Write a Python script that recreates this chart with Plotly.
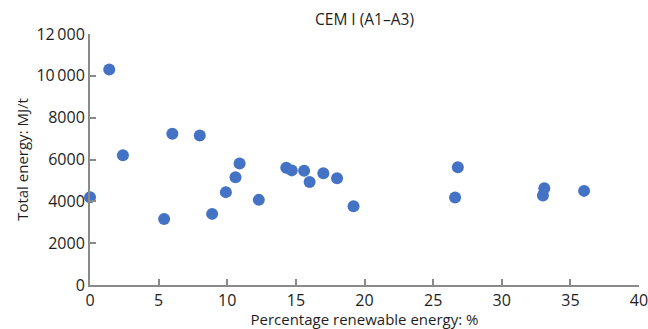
import plotly.graph_objects as go

# Share of renewable energy (%) and total energy (MJ/t) for CEM I, modules A1–A3
renewable_pct = [0.0, 1.4, 2.4, 5.4, 6.0, 8.0, 8.9, 9.9, 10.6, 10.9, 12.3,
                 14.3, 14.7, 15.6, 16.0, 17.0, 18.0, 19.2, 26.6, 26.8,
                 33.0, 33.1, 36.0]
total_energy = [4200, 10300, 6200, 3150, 7230, 7150, 3400, 4440, 5150, 5810, 4070,
                5610, 5480, 5460, 4920, 5340, 5100, 3760, 4180, 5630,
                4280, 4630, 4500]

x_ticks = [0, 5, 10, 15, 20, 25, 30, 35, 40]
y_ticks = [0, 2000, 4000, 6000, 8000, 10000, 12000]
y_tick_text = ["0", "2000", "4000", "6000", "8000", "10\u2009000", "12\u2009000"]

font_family = "Open Sans, Noto Sans, sans-serif"
axis_grey = "#8a8a8a"
text_color = "#1e1e1e"

fig = go.Figure(
    go.Scatter(
        x=renewable_pct,
        y=total_energy,
        mode="markers",
        marker=dict(size=12, color="#4472C4"),
        cliponaxis=False,
        showlegend=False,
    )
)

fig.update_layout(
    width=648,
    height=329,
    margin=dict(l=90, r=9, t=34, b=44),
    paper_bgcolor="white",
    plot_bgcolor="white",
    font=dict(family=font_family, color=text_color, size=15),
    title=dict(
        text="CEM I (A1–A3)",
        x=364.5 / 648,
        xanchor="center",
        y=1 - 20 / 329,
        yanchor="middle",
        font=dict(size=15.5, family=font_family, color=text_color),
    ),
)

axis_common = dict(
    ticks="inside",
    ticklen=6,
    tickwidth=1.5,
    tickcolor=axis_grey,
    showline=True,
    linecolor=axis_grey,
    linewidth=2,
    showgrid=False,
    zeroline=False,
    automargin=False,
    ticklabeloverflow="allow",
    tickfont=dict(size=16, color=text_color),
)

fig.update_xaxes(
    range=[0, 40],
    tickvals=x_ticks,
    title=dict(text="Percentage renewable energy: %", font=dict(size=15), standoff=6),
    **axis_common,
)

fig.update_yaxes(
    range=[0, 12000],
    tickvals=y_ticks,
    ticktext=y_tick_text,
    title=dict(text="Total energy: MJ/t", font=dict(size=15), standoff=4),
    **axis_common,
)

fig.write_html("out.html")
